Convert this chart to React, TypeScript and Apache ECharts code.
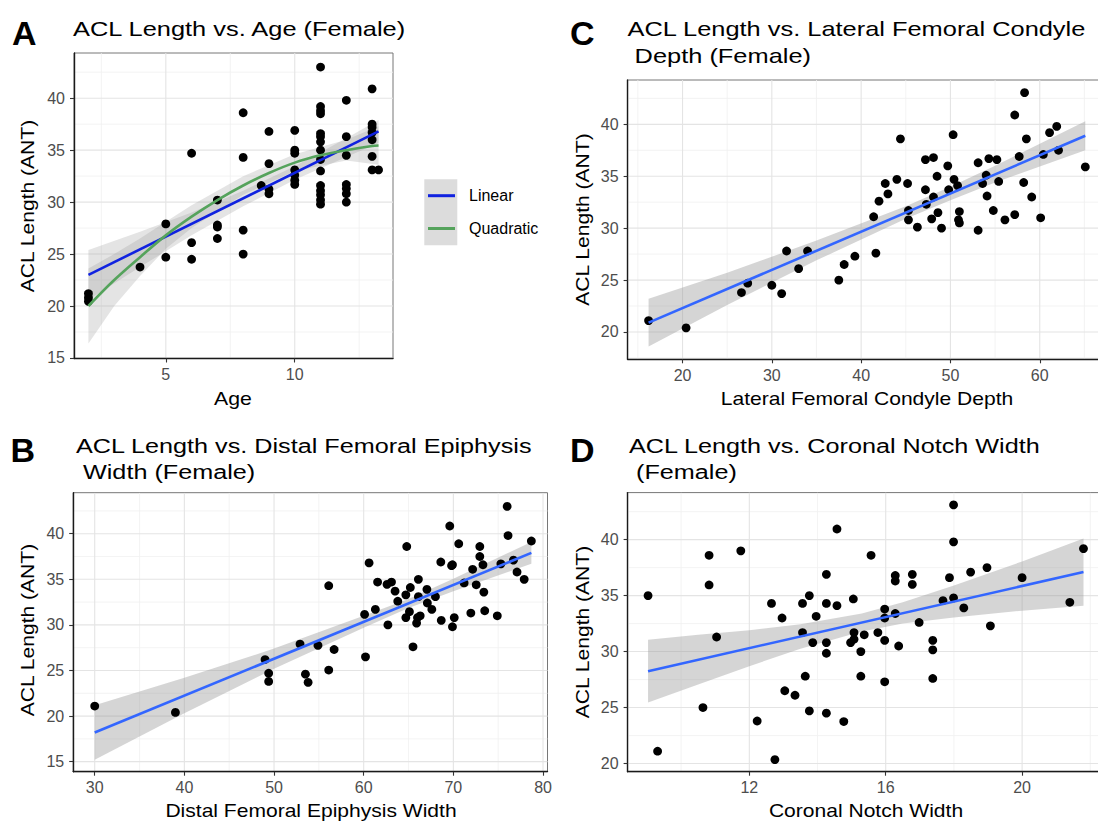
import React, { useEffect, useRef } from 'react';
import * as echarts from 'echarts';

// ---------- Panel A: ACL length vs Age ----------
const ageX = [2, 2, 2, 4, 5, 5, 6, 6, 6, 7, 7, 7, 7, 8, 8, 8, 8, 8.7, 9, 9, 9, 9, 10, 10, 10, 10, 10, 10, 10,
  11, 11, 11, 11, 11, 11, 11, 11, 11, 11, 11, 11, 11, 11, 11, 12, 12, 12, 12, 12, 12, 12,
  13, 13, 13, 13, 13, 13, 13, 13.25];
const ageAcl = [21.2, 20.8, 20.45, 23.75, 27.9, 24.7, 34.7, 26.1, 24.5, 30.2, 27.8, 27.6, 26.5, 38.6, 34.3, 27.3, 25.0, 31.6,
  36.8, 33.7, 31.25, 30.8, 36.9, 35.0, 34.7, 33.1, 32.6, 32.1, 31.7,
  43.0, 39.2, 38.8, 38.5, 36.6, 36.3, 35.8, 35.0, 34.1, 33.0, 31.6, 31.1, 30.7, 30.2, 29.8,
  39.8, 36.3, 34.5, 31.7, 31.3, 30.8, 30.0, 40.9, 37.5, 37.2, 36.7, 36.0, 34.4, 33.1, 33.1];
const ageLinX = [2, 13.25];
const ageLinY = [23.0, 36.8];
const ageLinBandX = [2, 4, 6, 8, 10, 12, 13.25];
const ageLinLo = [20.6, 23.75, 26.8, 29.6, 32.15, 34.35, 35.7];
const ageLinHi = [25.4, 27.15, 29.0, 31.1, 33.45, 36.15, 37.9];
const ageQuadX = [2, 3, 4, 5, 6, 7, 8, 9, 10, 11, 12, 13, 13.25];
const ageQuadY = [20.0, 22.5, 24.7, 26.8, 28.6, 30.2, 31.6, 32.8, 33.8, 34.5, 35.0, 35.4, 35.45];
const ageQuadBandX = [2, 3, 4, 5, 6, 8, 10, 12, 13.25];
const ageQuadLo = [16.4, 20.0, 22.9, 25.5, 27.5, 30.7, 33.0, 34.0, 33.6];
const ageQuadHi = [23.6, 25.0, 26.5, 28.1, 29.7, 32.5, 34.6, 36.0, 37.3];
const ageTicks = [5, 10];
const ageMinor = [2.5, 7.5, 12.5];

// ---------- Panel B: ACL length vs Distal Femoral Epiphysis Width ----------
const dfeWidth = [30.0, 39.0, 49.0, 49.4, 49.4, 52.9, 53.5, 53.8, 54.9, 56.1, 56.1, 56.7, 60.2, 60.1, 60.6, 61.3, 61.55,
  62.7, 62.6, 63.1, 63.5, 63.8, 64.7, 64.8, 64.7, 65.1, 65.2, 65.5, 65.9, 66.0, 66.1, 66.1, 66.3, 67.05, 67.1, 67.6,
  68.0, 68.6, 68.65, 69.6, 69.8, 69.9, 69.9, 70.1, 70.6, 71.2, 71.95, 72.15, 72.55, 72.95, 72.95, 73.3, 73.4, 73.5,
  74.9, 75.3, 76.0, 76.1, 76.7, 77.1, 77.9, 78.7];
const dfeAcl = [21.1, 20.4, 26.2, 24.7, 23.8, 27.9, 24.6, 23.7, 27.75, 34.3, 25.05, 27.3, 26.5, 31.15, 36.8, 31.7, 34.7,
  30.0, 34.45, 34.7, 33.7, 32.6, 33.3, 38.6, 30.8, 31.45, 34.1, 27.6, 30.2, 30.8, 35.0, 33.1, 31.0, 33.9, 32.4, 31.7,
  33.1, 36.9, 30.5, 40.85, 36.5, 36.6, 29.8, 30.8, 38.9, 34.6, 31.3, 36.1, 34.4, 38.6, 37.5, 36.6, 33.6, 31.55,
  31.0, 36.7, 43.0, 39.8, 37.1, 35.8, 35.0, 39.2];
const dfeLinX = [30, 78.7];
const dfeLinY = [18.2, 37.9];
const dfeBandX = [30, 40, 50, 60, 65, 70, 78.7];
const dfeBandLo = [15.2, 20.3, 25.2, 29.7, 31.85, 33.7, 36.7];
const dfeBandHi = [21.2, 24.2, 27.4, 31.0, 32.85, 35.05, 39.1];
const dfeTicks = [30, 40, 50, 60, 70, 80];
const dfeMinor = [35, 45, 55, 65, 75];

// ---------- Panel C: ACL length vs Lateral Femoral Condyle Depth ----------
const lfcDepth = [16.2, 20.4, 26.6, 27.3, 30.0, 31.1, 31.65, 33.0, 34.0, 37.5, 38.1, 39.3, 41.4, 41.65, 42.0, 42.7, 43.0,
  44.0, 44.4, 45.2, 45.3, 45.3, 46.3, 47.2, 47.2, 47.3, 48.1, 48.1, 47.9, 48.5, 48.6, 49.0, 49.7, 49.8, 50.3, 50.4,
  50.8, 50.9, 51.0, 51.0, 53.1, 53.1, 53.6, 54.0, 54.1, 54.3, 54.8, 55.2, 55.4, 56.1, 57.2, 57.2, 57.7, 58.2, 58.3,
  58.5, 59.1, 60.1, 60.4, 61.1, 61.9, 62.1, 65.1];
const lfcAcl = [21.1, 20.4, 23.8, 24.7, 24.5, 23.7, 27.8, 26.1, 27.8, 25.0, 26.5, 27.3, 31.1, 27.6, 32.6, 34.3, 33.3,
  34.7, 38.6, 34.3, 31.7, 30.8, 30.1, 36.6, 33.7, 32.3, 36.8, 33.0, 30.9, 35.0, 31.5, 30.0, 36.0, 33.7, 39.0, 34.7,
  34.1, 30.8, 30.5, 31.6, 29.8, 36.3, 34.3, 35.1, 33.1, 36.7, 31.7, 36.6, 34.5, 30.8, 40.9, 31.3, 36.9, 34.4, 43.05,
  38.6, 33.0, 31.0, 37.1, 39.2, 39.8, 37.5, 35.9];
const lfcLinX = [16.2, 65.1];
const lfcLinY = [20.9, 38.9];
const lfcBandX = [16.2, 25, 35, 45, 50, 55, 65.1];
const lfcBandLo = [18.6, 22.6, 26.9, 30.9, 32.7, 34.4, 37.5];
const lfcBandHi = [23.2, 25.7, 28.8, 32.1, 34.0, 36.0, 40.3];
const lfcTicks = [20, 30, 40, 50, 60];
const lfcMinor = [15, 25, 35, 45, 55, 65];

// ---------- Panel D: ACL length vs Coronal Notch Width ----------
const notchWidth = [9.03, 9.31, 10.64, 10.82, 10.82, 11.04, 11.75, 12.23, 12.65, 12.75, 12.96, 13.04, 13.34, 13.56, 13.56,
  13.64, 13.76, 13.76, 13.86, 13.96, 14.26, 14.26, 14.26, 14.26, 14.26, 14.57, 14.57, 14.77, 14.97, 15.05, 15.07, 15.07,
  15.27, 15.27, 15.37, 15.57, 15.77, 15.97, 15.97, 15.97, 15.97, 16.28, 16.28, 16.28, 16.38, 16.78, 16.78, 16.98,
  17.38, 17.38, 17.38, 17.68, 17.87, 17.99, 17.99, 17.99, 18.29, 18.49, 18.97, 19.07, 20.0, 21.4, 21.8];
const notchAcl = [35.0, 21.1, 25.0, 38.6, 35.95, 31.3, 39.0, 23.8, 34.3, 20.35, 33.0, 26.5, 26.1, 34.3, 31.7,
  27.8, 35.0, 24.7, 30.8, 33.15, 36.9, 34.3, 30.8, 29.85, 24.5, 40.95, 34.1, 23.75, 30.8, 34.7, 31.7, 31.1,
  30.0, 27.8, 31.5, 38.6, 31.7, 33.8, 33.0, 31.0, 27.3, 36.8, 36.3, 33.4, 30.5, 36.9, 36.0, 32.6,
  31.0, 30.15, 27.6, 34.55, 36.6, 43.1, 39.8, 34.8, 33.9, 37.1, 37.5, 32.3, 36.6, 34.4, 39.2];
const notchLinX = [9.03, 21.8];
const notchLinY = [28.25, 37.1];
const notchBandX = [9.03, 10.5, 12, 13.5, 15.3, 16.5, 18, 20, 21.8];
const notchBandLo = [25.45, 27.05, 28.7, 30.25, 31.8, 32.5, 33.05, 33.65, 34.1];
const notchBandHi = [31.05, 31.5, 31.9, 32.45, 33.4, 34.4, 35.9, 38.05, 40.1];
const notchTicks = [12, 16, 20];
const notchMinor = [10, 14, 18, 22];

// ---------- shared y ticks ----------
const aclTicks = [15, 20, 25, 30, 35, 40];
const aclMinor = [17.5, 22.5, 27.5, 32.5, 37.5, 42.5];

const FONT = "'Liberation Sans', Arial, Helvetica, sans-serif";
const TICK_COLOR = '#4d4d4d';
const BLUE = '#3366FF';

const pairs = (xs: number[], ys: number[]) => xs.map((x, i) => [x, ys[i]]);

function xAxisCfg(g: number, min: number, max: number, ticks: number[]) {
  return {
    type: 'value', gridIndex: g, min, max,
    axisLine: { show: true, onZero: false, lineStyle: { color: '#1a1a1a', width: 1.4 } },
    axisTick: { show: true, length: 4, customValues: ticks, lineStyle: { color: '#333', width: 1.1 } },
    axisLabel: { show: true, customValues: ticks, margin: 8, color: TICK_COLOR, fontSize: 16, fontFamily: FONT },
    splitLine: { show: false }, minorSplitLine: { show: false }, axisPointer: { show: false },
  };
}
function yAxisCfg(g: number, min: number, max: number, ticks: number[]) {
  return {
    type: 'value', gridIndex: g, min, max,
    axisLine: { show: true, onZero: false, lineStyle: { color: '#1a1a1a', width: 1.4 } },
    axisTick: { show: true, length: 4, customValues: ticks, lineStyle: { color: '#333', width: 1.1 } },
    axisLabel: { show: true, customValues: ticks, margin: 9, color: TICK_COLOR, fontSize: 16, fontFamily: FONT },
    splitLine: { show: false }, minorSplitLine: { show: false }, axisPointer: { show: false },
  };
}

function gridLineSeries(g: number, xs: number[], ys: number[], xMid: number, yMid: number, color: string, width: number) {
  const data = xs.map((v) => [v, yMid, 0]).concat(ys.map((v) => [xMid, v, 1]));
  return {
    type: 'custom', xAxisIndex: g, yAxisIndex: g, z: 0, silent: true, clip: true,
    data,
    renderItem: (params: any, api: any) => {
      const cs = params.coordSys;
      const kind = api.value(2);
      const p = api.coord([api.value(0), api.value(1)]);
      const shape = kind === 0
        ? { x1: p[0], y1: cs.y, x2: p[0], y2: cs.y + cs.height }
        : { x1: cs.x, y1: p[1], x2: cs.x + cs.width, y2: p[1] };
      return { type: 'line', shape, style: { stroke: color, lineWidth: width } };
    },
  };
}

function bandSeries(g: number, xs: number[], lo: number[], hi: number[], fill: string) {
  return {
    type: 'custom', xAxisIndex: g, yAxisIndex: g, z: 1, silent: true, clip: true,
    data: [[xs[0], lo[0]]],
    renderItem: (params: any, api: any) => {
      if (params.dataIndex !== 0) return null;
      const pts: number[][] = [];
      for (let i = 0; i < xs.length; i++) pts.push(api.coord([xs[i], hi[i]]));
      for (let i = xs.length - 1; i >= 0; i--) pts.push(api.coord([xs[i], lo[i]]));
      return { type: 'polygon', shape: { points: pts }, style: { fill } };
    },
  };
}

function scatterSeries(g: number, xs: number[], ys: number[]) {
  return {
    type: 'scatter', xAxisIndex: g, yAxisIndex: g, z: 3, silent: true,
    symbol: 'circle', symbolSize: 8.8, itemStyle: { color: '#000', opacity: 1 },
    data: pairs(xs, ys),
  };
}

function lineSeries(g: number, xs: number[], ys: number[], color: string, smooth = false) {
  return {
    type: 'line', xAxisIndex: g, yAxisIndex: g, z: 4, silent: true,
    showSymbol: false, symbol: 'none', smooth: smooth ? 0.35 : false,
    lineStyle: { color, width: 2.6 },
    data: pairs(xs, ys),
  };
}

function txt(text: string, x: number, y: number, size: number, o: any = {}) {
  const align = o.align || 'left';
  return {
    type: 'text', x, y, rotation: o.rot || 0, scaleX: o.sx || 1, silent: true, z: 10,
    style: {
      text, fill: '#000', fontSize: size, fontFamily: FONT, fontWeight: o.bold ? 'bold' : 'normal',
      align, verticalAlign: 'middle', textAlign: align, textVerticalAlign: 'middle',
    },
  };
}

const GRID_MAJOR = '#e4e4e4';
const GRID_MINOR = '#f0f0f0';

export default function App() {
  const ref = useRef<HTMLDivElement>(null);
  useEffect(() => {
    if (!ref.current) return;
    const chart = echarts.init(ref.current, undefined, { renderer: 'svg' });
    const grids = [
      { left: 74, top: 53, width: 319, height: 305.5 },      // A
      { left: 73.2, top: 492.7, width: 474.3, height: 279 }, // B
      { left: 627.6, top: 80, width: 478.6, height: 279.3 }, // C
      { left: 627.6, top: 492.6, width: 477.7, height: 279.1 }, // D
    ].map((g) => ({ ...g, show: true, backgroundColor: '#fff', borderColor: '#777', borderWidth: 1, containLabel: false, outerBoundsMode: 'none' }));

    const option: any = {
      animation: false,
      backgroundColor: '#fff',
      grid: grids,
      xAxis: [
        xAxisCfg(0, 1.44, 13.81, ageTicks),
        xAxisCfg(1, 27.6, 80.5, dfeTicks),
        xAxisCfg(2, 13.85, 67.44, lfcTicks),
        xAxisCfg(3, 8.43, 22.44, notchTicks),
      ],
      yAxis: [
        yAxisCfg(0, 14.95, 44.35, aclTicks),
        yAxisCfg(1, 13.9, 44.5, aclTicks),
        yAxisCfg(2, 17.37, 44.27, aclTicks.slice(1)),
        yAxisCfg(3, 19.27, 44.2, aclTicks.slice(1)),
      ],
      series: [
        // A
        gridLineSeries(0, ageMinor, aclMinor, 7, 30, GRID_MINOR, 0.8),
        gridLineSeries(0, ageTicks, aclTicks, 7, 30, GRID_MAJOR, 1.1),
        bandSeries(0, ageLinBandX, ageLinLo, ageLinHi, 'rgba(150,150,150,0.26)'),
        bandSeries(0, ageQuadBandX, ageQuadLo, ageQuadHi, 'rgba(150,150,150,0.26)'),
        scatterSeries(0, ageX, ageAcl),
        lineSeries(0, ageLinX, ageLinY, '#1022e0'),
        lineSeries(0, ageQuadX, ageQuadY, '#55a35c', true),
        // B
        gridLineSeries(1, dfeMinor, aclMinor, 50, 30, GRID_MINOR, 0.8),
        gridLineSeries(1, dfeTicks, aclTicks, 50, 30, GRID_MAJOR, 1.1),
        bandSeries(1, dfeBandX, dfeBandLo, dfeBandHi, 'rgba(150,150,150,0.4)'),
        scatterSeries(1, dfeWidth, dfeAcl),
        lineSeries(1, dfeLinX, dfeLinY, BLUE),
        // C
        gridLineSeries(2, lfcMinor, aclMinor, 40, 30, GRID_MINOR, 0.8),
        gridLineSeries(2, lfcTicks, aclTicks, 40, 30, GRID_MAJOR, 1.1),
        bandSeries(2, lfcBandX, lfcBandLo, lfcBandHi, 'rgba(150,150,150,0.4)'),
        scatterSeries(2, lfcDepth, lfcAcl),
        lineSeries(2, lfcLinX, lfcLinY, BLUE),
        // D
        gridLineSeries(3, notchMinor, aclMinor, 15, 30, GRID_MINOR, 0.8),
        gridLineSeries(3, notchTicks, aclTicks, 15, 30, GRID_MAJOR, 1.1),
        bandSeries(3, notchBandX, notchBandLo, notchBandHi, 'rgba(150,150,150,0.4)'),
        scatterSeries(3, notchWidth, notchAcl),
        lineSeries(3, notchLinX, notchLinY, BLUE),
      ],
      graphic: {
        elements: [
          // Panel letters
          txt('A', 12, 33, 34, { bold: true }),
          txt('B', 10.5, 450, 34, { bold: true }),
          txt('C', 570, 33, 34, { bold: true }),
          txt('D', 570, 450, 34, { bold: true }),
          // Titles
          txt('ACL Length vs. Age (Female)', 73, 28.3, 21, { sx: 1.21 }),
          txt('ACL Length vs. Distal Femoral Epiphysis', 76, 445.8, 21, { sx: 1.2 }),
          txt(' Width (Female)', 76, 472, 21, { sx: 1.2 }),
          txt('ACL Length vs. Lateral Femoral Condyle', 627.5, 28.3, 21, { sx: 1.21 }),
          txt(' Depth (Female)', 627.5, 55.8, 21, { sx: 1.21 }),
          txt('ACL Length vs. Coronal Notch Width', 629, 445.8, 21, { sx: 1.2 }),
          txt(' (Female)', 629, 472, 21, { sx: 1.2 }),
          // X axis titles
          txt('Age', 233, 398.5, 18, { align: 'center', sx: 1.18 }),
          txt('Distal Femoral Epiphysis Width', 311, 810.8, 18, { align: 'center', sx: 1.17 }),
          txt('Lateral Femoral Condyle Depth', 867, 399, 18, { align: 'center', sx: 1.17 }),
          txt('Coronal Notch Width', 866, 810.8, 18, { align: 'center', sx: 1.17 }),
          // Y axis titles
          txt('ACL Length (ANT)', 28, 206, 18, { align: 'center', rot: Math.PI / 2, sx: 1.17 }),
          txt('ACL Length (ANT)', 28, 630, 18, { align: 'center', rot: Math.PI / 2, sx: 1.17 }),
          txt('ACL Length (ANT)', 583, 219.5, 18, { align: 'center', rot: Math.PI / 2, sx: 1.17 }),
          txt('ACL Length (ANT)', 583, 632, 18, { align: 'center', rot: Math.PI / 2, sx: 1.17 }),
          // Legend for panel A
          { type: 'rect', silent: true, z: 10, shape: { x: 424.3, y: 179.3, width: 33, height: 66 }, style: { fill: '#dcdcdc' } },
          { type: 'line', silent: true, z: 11, shape: { x1: 428, y1: 195.7, x2: 455, y2: 195.7 }, style: { stroke: '#1022e0', lineWidth: 3 } },
          { type: 'line', silent: true, z: 11, shape: { x1: 428, y1: 228.5, x2: 455, y2: 228.5 }, style: { stroke: '#55a35c', lineWidth: 3 } },
          txt('Linear', 469, 195.5, 16),
          txt('Quadratic', 469, 228.5, 16),
        ],
      },
    };
    chart.setOption(option);
    return () => chart.dispose();
  }, []);
  return <div ref={ref} style={{ position: 'absolute', left: 0, top: 0, width: 1098, height: 822, background: '#fff' }} />;
}
